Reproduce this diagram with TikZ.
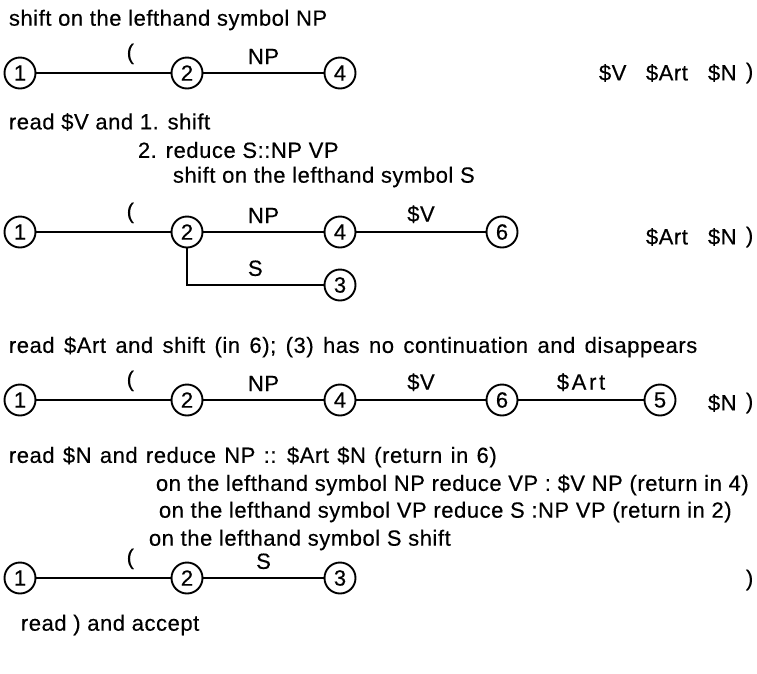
\documentclass[tikz,border=0pt]{standalone}
\usepackage{fontspec}
\setmainfont{Liberation Sans}[LetterSpace=2.5,FakeBold=0.4]
\usetikzlibrary{positioning}

\begin{document}
\begin{tikzpicture}[x=1pt,y=-1pt,font=\fontsize{22}{26}\selectfont,line width=1.9pt]
\tikzstyle{st}=[draw,circle,inner sep=0pt,minimum size=31pt]
\tikzstyle{txt}=[anchor=west,inner sep=0pt]
\tikzstyle{lab}=[above=8pt,inner sep=0pt]
\useasboundingbox (0,0) rectangle (757,673);
% step 1
\node[txt] (c1) at (8,20) {shift on the lefthand symbol NP};
\node[st] (a1) at (20,73) {1};
\node[st] (a2) at (187,73) {2};
\node[st] (a4) at (340,73) {4};
\draw (a1) -- node[lab,pos=0.7]{(} (a2);
\draw (a2) -- node[lab]{NP} (a4);
\node[txt] (ra1) at (598,73) {\$V};
\node[txt] (ra2) at (645,73) {\$Art};
\node[txt] (ra3) at (707,73) {\$N};
\node[txt] (ra4) at (745,73) {)};
% step 2
\node[txt] (c2) at (8,122) {read \$V and 1. shift};
\node[txt] (c2b) at (137,150) {2. reduce S::NP VP};
\node[txt] (c2c) at (172,177) {shift on the lefthand symbol S};
\node[st] (b1) at (20,232) {1};
\node[st] (b2) at (187,232) {2};
\node[st] (b4) at (340,232) {4};
\node[st] (b6) at (502,232) {6};
\node[st] (b3) at (340,285) {3};
\draw (b1) -- node[lab,pos=0.7]{(} (b2);
\draw (b2) -- node[lab]{NP} (b4);
\draw (b4) -- node[lab]{\$V} (b6);
\draw (b2.south) |- node[lab,pos=0.75]{S} (b3);
\node[txt] (rb2) at (645,237) {\$Art};
\node[txt] (rb3) at (707,237) {\$N};
\node[txt] (rb4) at (745,237) {)};
% step 3
\node[txt] (c3) at (8,347) {\spaceskip=9.4pt read \$Art and shift (in 6); (3) has no continuation and disappears};
\node[st] (d1) at (20,400) {1};
\node[st] (d2) at (187,400) {2};
\node[st] (d4) at (340,400) {4};
\node[st] (d6) at (502,400) {6};
\node[st] (d5) at (660,400) {5};
\draw (d1) -- node[lab,pos=0.7]{(} (d2);
\draw (d2) -- node[lab]{NP} (d4);
\draw (d4) -- node[lab]{\$V} (d6);
\draw (d6) -- node[lab]{\addfontfeature{LetterSpace=12}\$Art} (d5);
\node[txt] (rd3) at (707,403) {\$N};
\node[txt] (rd4) at (745,403) {)};
% step 4
\node[txt] (c4) at (8,457) {\spaceskip=8.3pt read \$N and reduce NP :: \$Art \$N (return in 6)};
\node[txt] (c4b) at (155,485) {on the lefthand symbol NP reduce VP : \$V NP (return in 4)};
\node[txt] (c4c) at (158,512) {on the lefthand symbol VP reduce S :NP VP (return in 2)};
\node[txt] (c4d) at (148,540) {on the lefthand symbol S shift};
\node[st] (e1) at (20,578) {1};
\node[st] (e2) at (187,578) {2};
\node[st] (e3) at (340,578) {3};
\draw (e1) -- node[lab,pos=0.7]{(} (e2);
\draw (e2) -- node[lab]{S} (e3);
\node[txt] (re4) at (745,580) {)};
\node[txt] (c5) at (20,625) {read ) and accept};
\end{tikzpicture}
\end{document}
